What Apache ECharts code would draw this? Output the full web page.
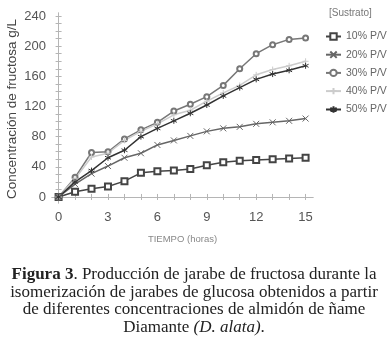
<!DOCTYPE html>
<html>
<head>
<meta charset="utf-8">
<script src="https://cdn.jsdelivr.net/npm/echarts@6/dist/echarts.min.js"></script>
<style>
  html, body { margin: 0; padding: 0; background: #fff; }
  #chart { width: 388px; height: 350px; }
</style>
</head>
<body>
<div id="chart"></div>
<script>
var hours = [0, 1, 2, 3, 4, 5, 6, 7, 8, 9, 10, 11, 12, 13, 14, 15];
var s10 = [0, 7, 11, 14, 21, 32, 34, 35, 37, 42, 46, 48, 49, 50, 51, 52];
var s20 = [0, 17, 31, 41, 52, 58, 69, 75, 81, 87, 91, 93, 97, 99, 101, 104];
var s30 = [0, 26, 59, 60, 77, 89, 99, 114, 123, 133, 148, 170, 190, 202, 209, 211];
var s40 = [0, 24, 53, 58, 75, 87, 97, 109, 115, 127, 138, 148, 162, 169, 174, 180];
var s50 = [0, 20, 35, 52, 62, 80, 91, 101, 111, 122, 134, 145, 156, 163, 168, 174];
var xLabels = [0, 3, 6, 9, 12, 15];
var yLabels = [0, 40, 80, 120, 160, 200, 240];
var yTicks = [0, 10, 20, 30, 40, 50, 60, 70, 80, 90, 100, 110, 120, 130, 140, 150, 160, 170, 180, 190, 200, 210, 220, 230, 240];

var crossPath = 'path://M0,0L10,10M10,0L0,10';
var plusPath = 'path://M5,0L5,10M0,5L10,5';
var starPath = 'path://M5,0L5,10M0.7,2.5L9.3,7.5M9.3,2.5L0.7,7.5';

function pairs(vals) {
  return hours.map(function (h, i) { return [h, vals[i]]; });
}

function mkSeries(name, vals, color, symbol, size) {
  var isPath = symbol.indexOf('path') === 0;
  return {
    name: name,
    type: 'line',
    data: pairs(vals),
    symbol: symbol,
    symbolSize: size,
    lineStyle: { color: color, width: 1.5 },
    itemStyle: isPath ? { color: 'none', borderColor: color, borderWidth: 1 } : { color: color, borderWidth: 1 },
    emphasis: { disabled: true }
  };
}

var chart = echarts.init(document.getElementById('chart'));
var frame = '#b5b5b5';
var tickStyle = { show: true, inside: true, length: 3, lineStyle: { color: frame } };

chart.setOption({
  animation: false,
  grid: { left: 52, top: 13, width: 261, height: 190, containLabel: false, outerBoundsMode: 'none' },
  legend: {
    orient: 'vertical', left: 320, top: 26, itemGap: 7,
    itemWidth: 15, itemHeight: 8,
    textStyle: { fontFamily: 'Liberation Sans', fontSize: 10.5, color: '#666' },
    data: ['10% P/V', '20% P/V', '30% P/V', '40% P/V', '50% P/V']
  },
  xAxis: [{
    type: 'value', min: -0.4, max: 15.45,
    axisLine: { lineStyle: { color: frame } },
    axisTick: Object.assign({ customValues: hours }, tickStyle),
    axisLabel: { customValues: xLabels, margin: 8, fontFamily: 'Liberation Sans', fontSize: 13, color: '#555' },
    splitLine: { show: false },
    name: 'TIEMPO (horas)', nameLocation: 'middle', nameGap: 31,
    nameTextStyle: { fontFamily: 'Liberation Sans', fontSize: 9.5, color: '#888' }
  }, {
    type: 'value', position: 'top', min: -0.4, max: 15.45,
    axisLine: { show: true, lineStyle: { color: frame } },
    axisTick: Object.assign({ customValues: hours }, tickStyle),
    axisLabel: { show: false }, splitLine: { show: false }
  }],
  yAxis: [{
    type: 'value', min: -8, max: 244,
    axisLine: { show: true, lineStyle: { color: frame } },
    axisTick: Object.assign({ customValues: yTicks }, tickStyle),
    axisLabel: { customValues: yLabels, margin: 6, fontFamily: 'Liberation Sans', fontSize: 13, color: '#555' },
    splitLine: { show: false }
  }, {
    type: 'value', position: 'right', min: -8, max: 244,
    axisLine: { show: true, lineStyle: { color: frame } },
    axisTick: Object.assign({ customValues: yTicks }, tickStyle),
    axisLabel: { show: false }, splitLine: { show: false }
  }],
  series: [
    mkSeries('10% P/V', s10, '#444', 'emptyRect', 6),
    mkSeries('20% P/V', s20, '#666', crossPath, 6),
    mkSeries('30% P/V', s30, '#777', 'emptyCircle', 5),
    mkSeries('40% P/V', s40, '#ccc', plusPath, 6),
    mkSeries('50% P/V', s50, '#333', starPath, 6)
  ],
  graphic: [{
    type: 'text', x: 12, y: 109, rotation: Math.PI / 2,
    style: {
      text: 'Concentración de fructosa g/L', align: 'center', verticalAlign: 'middle',
      font: '13.5px "Liberation Sans"', fill: '#444'
    }
  }, {
    type: 'text', left: 329, top: 8,
    style: { text: '[Sustrato]', font: '10px "Liberation Sans"', fill: '#777' }
  }, {
    type: 'text', x: 194, y: 266,
    style: {
      text: '{b|Figura 3}. Producción de jarabe de fructosa durante la\nisomerización de jarabes de glucosa obtenidos a partir\nde diferentes concentraciones de almidón de ñame\nDiamante {i|(D. alata)}.',
      align: 'center', verticalAlign: 'top',
      font: '17px "Liberation Serif"', fill: '#222', lineHeight: 17.5,
      rich: {
        b: { fontWeight: 'bold', fontFamily: 'Liberation Serif', fontSize: 17, fill: '#222', lineHeight: 17.5 },
        i: { fontStyle: 'italic', fontFamily: 'Liberation Serif', fontSize: 17, fill: '#222', lineHeight: 17.5 }
      }
    }
  }]
});
</script>
</body>
</html>
